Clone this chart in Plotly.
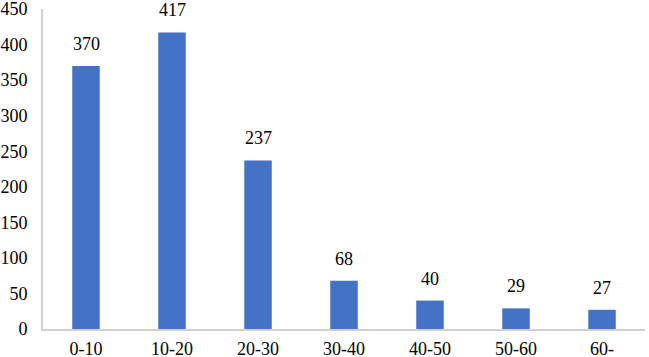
import plotly.graph_objects as go

categories = ["0-10", "10-20", "20-30", "30-40", "40-50", "50-60", "60-"]
values = [370, 417, 237, 68, 40, 29, 27]
y_ticks = [0, 50, 100, 150, 200, 250, 300, 350, 400, 450]

FONT = "Times New Roman, Liberation Serif, serif"
tf = dict(family=FONT, size=18, color="black")

fig = go.Figure(go.Bar(
    x=categories, y=values,
    marker=dict(color="#4472C4", line=dict(width=0)),
    hoverinfo="x+y",
))
for c, v in zip(categories, values):
    fig.add_annotation(x=c, y=v, text=str(v), showarrow=False, yanchor="bottom",
                       yshift=10, font=tf)
fig.update_layout(
    width=649, height=357,
    margin=dict(l=43, r=4, t=9, b=28),
    paper_bgcolor="white", plot_bgcolor="white",
    bargap=0.68,
    font=tf,
    showlegend=False,
)
fig.update_xaxes(showline=True, linecolor="#d0d0d0", linewidth=2, ticks="", showgrid=False,
                 tickfont=tf, ticklabelstandoff=2, automargin=False, ticklabeloverflow="allow")
fig.update_yaxes(range=[0, 450], tickvals=y_ticks, showline=True, linecolor="#d0d0d0", linewidth=2,
                 showgrid=False, zeroline=False, ticks="", tickfont=tf, ticklabelstandoff=10,
                 automargin=False, ticklabeloverflow="allow")
fig.write_html("out.html", config={"displayModeBar": False},
               post_script="document.body.style.margin='0';document.body.style.padding='0';")
